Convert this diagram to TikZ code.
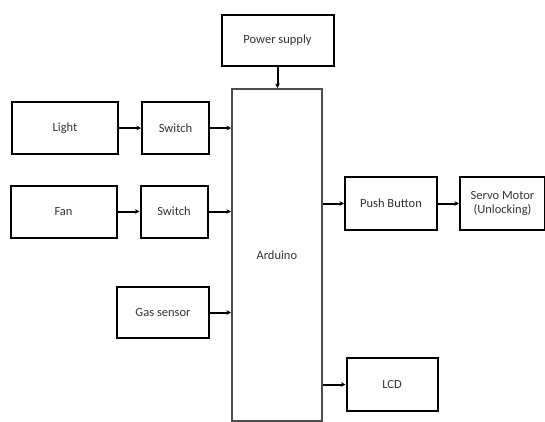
\documentclass[tikz,border=0pt]{standalone}
\usepackage{fontspec}
\setmainfont{Carlito}
\usetikzlibrary{arrows.meta}
\begin{document}
\begin{tikzpicture}[x=1pt,y=-1pt,
  blk/.style={draw=black,line width=2pt,rectangle,inner sep=0pt,anchor=north west,
    font=\fontsize{12.5}{14}\selectfont,text=black!80,align=center},
  conn/.style={line width=2pt,-{Stealth[length=4.5pt,width=4.5pt]}}]
\useasboundingbox (0,0) rectangle (545,421);
\node[blk,minimum width=112pt,minimum height=51pt] (ps) at (220.5,14) {Power supply};
\node[blk,minimum width=90pt,minimum height=332pt,draw=black!70,line width=1.6pt] (ard) at (231,88) {Arduino};
\node[blk,minimum width=106pt,minimum height=52pt] (light) at (11,101) {Light};
\node[blk,minimum width=67pt,minimum height=52pt] (sw1) at (141,101) {Switch};
\node[blk,minimum width=106pt,minimum height=52pt] (fan) at (9.5,184.5) {Fan};
\node[blk,minimum width=67pt,minimum height=52pt] (sw2) at (139.5,184.5) {Switch};
\node[blk,minimum width=92pt,minimum height=51pt] (gas) at (116,286) {Gas sensor};
\node[blk,minimum width=92pt,minimum height=53pt] (pb) at (344,176) {Push Button};
\node[blk,minimum width=85pt,minimum height=53pt] (servo) at (459,176) {Servo Motor\\(Unlocking)};
\node[blk,minimum width=91pt,minimum height=53pt] (lcd) at (345.5,357) {LCD};
\draw[conn] (ps.south) -- (ps.south |- ard.north);
\draw[conn] (light.east) -- (sw1.west);
\draw[conn] (sw1.east) -- (sw1.east -| ard.west);
\draw[conn] (fan.east) -- (sw2.west);
\draw[conn] (sw2.east) -- (sw2.east -| ard.west);
\draw[conn] (gas.east) -- (gas.east -| ard.west);
\draw[conn] (pb.west -| ard.east) -- (pb.west);
\draw[conn] (pb.east) -- (servo.west);
\draw[conn] (lcd.west -| ard.east) -- (lcd.west);
\end{tikzpicture}
\end{document}
